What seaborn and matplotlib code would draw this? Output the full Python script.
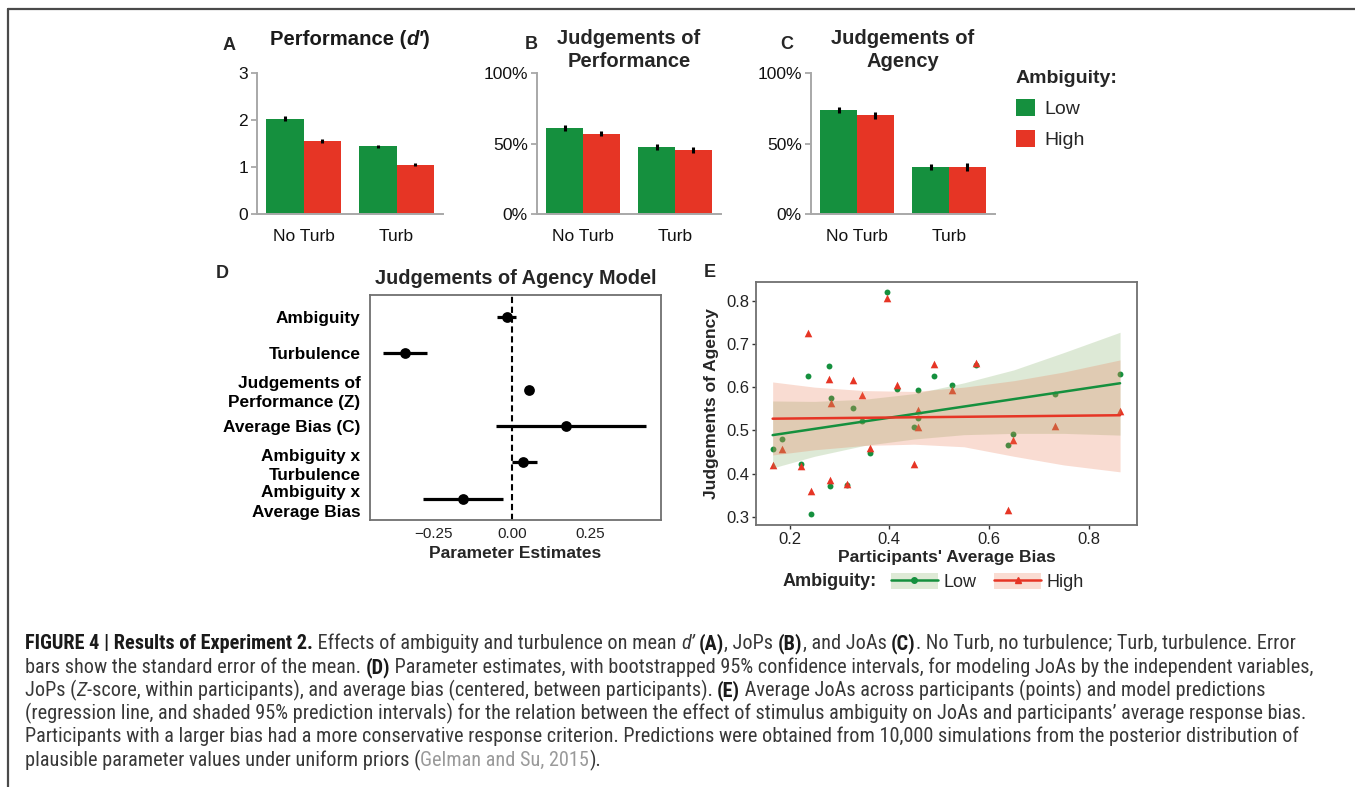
import numpy as np
import pandas as pd
import matplotlib
matplotlib.use('Agg')
import matplotlib.pyplot as plt
import seaborn as sns
from matplotlib.patches import Patch
from matplotlib.lines import Line2D
from matplotlib.font_manager import FontProperties

# ---- data ----
conditions = ['No Turb', 'Turb']
ambiguity = ['Low', 'High']

dprime_low = [2.03, 1.44]
dprime_high = [1.56, 1.05]
dprime_se_low = [0.05, 0.035]
dprime_se_high = [0.04, 0.035]

jop_low = [0.61, 0.477]
jop_high = [0.57, 0.455]
jop_se_low = [0.018, 0.022]
jop_se_high = [0.02, 0.02]

joa_low = [0.737, 0.335]
joa_high = [0.70, 0.335]
joa_se_low = [0.022, 0.022]
joa_se_high = [0.025, 0.028]

model_terms = ['Ambiguity', 'Turbulence', 'Judgements of\nPerformance (Z)',
               'Average Bias (C)', 'Ambiguity x\nTurbulence', 'Ambiguity x\nAverage Bias']
model_est = [-0.017, -0.343, 0.054, 0.173, 0.036, -0.157]
model_lo = [-0.048, -0.414, 0.048, -0.052, -0.001, -0.285]
model_hi = [0.012, -0.273, 0.060, 0.430, 0.080, -0.028]

bias = [0.166, 0.185, 0.223, 0.236, 0.243, 0.279, 0.282, 0.283, 0.316, 0.327, 0.346, 0.362,
        0.395, 0.416, 0.449, 0.457, 0.458, 0.489, 0.526, 0.574, 0.639, 0.649, 0.733, 0.863]
joa_pts_low = [0.456, 0.481, 0.423, 0.626, 0.306, 0.649, 0.372, 0.575, 0.374, 0.552, 0.522, 0.447,
               0.821, 0.595, 0.508, 0.594, 0.528, 0.625, 0.605, 0.652, 0.465, 0.492, 0.583, 0.630]
joa_pts_high = [0.420, 0.457, 0.417, 0.725, 0.360, 0.619, 0.385, 0.563, 0.376, 0.616, 0.582, 0.460,
                0.806, 0.604, 0.423, 0.546, 0.507, 0.653, 0.594, 0.656, 0.315, 0.478, 0.509, 0.545]

fit_x = [0.166, 0.863]
fit_low = [0.489, 0.609]
fit_high = [0.527, 0.535]

band_x = [0.166, 0.25, 0.35, 0.45, 0.55, 0.65, 0.75, 0.863]
band_low_lo = [0.413, 0.440, 0.465, 0.480, 0.490, 0.493, 0.493, 0.489]
band_low_hi = [0.568, 0.567, 0.572, 0.585, 0.610, 0.640, 0.680, 0.727]
band_high_lo = [0.443, 0.455, 0.465, 0.468, 0.462, 0.440, 0.420, 0.404]
band_high_hi = [0.612, 0.600, 0.592, 0.590, 0.600, 0.615, 0.635, 0.663]

# ---- style ----
sns.set_style('white')
SANS = ['Liberation Sans', 'DejaVu Sans']
CAPTION = ['Liberation Sans Narrow', 'Roboto Condensed', 'Liberation Sans', 'DejaVu Sans']
plt.rcParams['font.family'] = SANS
plt.rcParams['lines.scale_dashes'] = False

GREEN = '#15903E'
RED = '#E63525'
AXGRAY = '#A8A8A8'
BOXGRAY = '#707070'
W, H = 1355, 787


def fx(px):
    return px / W


def fy(py):
    return 1 - py / H


fig = plt.figure(figsize=(W / 100, H / 100), dpi=100)
fig.patch.set_facecolor('white')

# frame lines of the figure page
fig.add_artist(Line2D([fx(8), 1], [fy(8.5), fy(8.5)], color='#4a4a4a', lw=1.6, transform=fig.transFigure))
fig.add_artist(Line2D([fx(8), fx(8)], [fy(8.5), 0], color='#4a4a4a', lw=1.6, transform=fig.transFigure))


def bar_panel(ax, low, high, se_low, se_high, ymax, ticks, labels):
    df = pd.DataFrame({'cond': conditions * 2,
                       'amb': ['Low'] * 2 + ['High'] * 2,
                       'val': low + high,
                       'se': se_low + se_high})
    sns.barplot(data=df, x='cond', y='val', hue='amb', hue_order=ambiguity,
                palette=[GREEN, RED], saturation=1, errorbar=None, legend=False,
                width=0.8, linewidth=0, ax=ax)
    for p in ax.patches:
        xc = p.get_x() + p.get_width() / 2
        ci = int(round(xc))
        amb = 'Low' if xc < ci else 'High'
        row = df[(df.cond == conditions[ci]) & (df.amb == amb)].iloc[0]
        ax.vlines(xc, row.val - row.se, row.val + row.se, color='black', lw=2.2, zorder=3)
    ax.set_xlim(-0.5, 1.5)
    ax.set_ylim(0, ymax)
    ax.set_xticks([0, 1], conditions)
    ax.set_xticks([-0.5, 0.5, 1.5], minor=True)
    ax.tick_params(axis='x', which='major', length=0, pad=11, labelsize=12.5, labelcolor='#111111')
    ax.tick_params(axis='x', which='minor', length=4, width=1.3, color=AXGRAY)
    ax.set_yticks(ticks, labels)
    ax.tick_params(axis='y', length=4, width=1.3, color=AXGRAY, pad=2.5, labelsize=12.5,
                   labelcolor='#111111', left=True)
    for s in ['top', 'right']:
        ax.spines[s].set_visible(False)
    for s in ['left', 'bottom']:
        ax.spines[s].set_color(AXGRAY)
        ax.spines[s].set_linewidth(1.4)
    ax.set_xlabel('')
    ax.set_ylabel('')


axA = fig.add_axes([fx(257), fy(214), 186 / W, 141 / H])
axB = fig.add_axes([fx(537), fy(214), 184 / W, 141 / H])
axC = fig.add_axes([fx(811), fy(214), 184 / W, 141 / H])
bar_panel(axA, dprime_low, dprime_high, dprime_se_low, dprime_se_high, 3,
          [0, 1, 2, 3], ['0', '1', '2', '3'])
bar_panel(axB, jop_low, jop_high, jop_se_low, jop_se_high, 1,
          [0, 0.5, 1], ['0%', '50%', '100%'])
bar_panel(axC, joa_low, joa_high, joa_se_low, joa_se_high, 1,
          [0, 0.5, 1], ['0%', '50%', '100%'])

renderer = fig.canvas.get_renderer()


def run_widths(runs, size, family):
    out = []
    for txt, kind in runs:
        fp = FontProperties(family=family, size=size,
                            weight='bold' if 'b' in kind else 'normal',
                            style='italic' if 'i' in kind else 'normal')
        w1 = renderer.get_text_width_height_descent(txt + '|', fp, False)[0]
        w0 = renderer.get_text_width_height_descent('|', fp, False)[0]
        out.append((fp, w1 - w0))
    return out


def draw_runs(runs, x, y, size, family, ha='left', color='#333333'):
    measured = run_widths(runs, size, family)
    total = sum(w for _, w in measured)
    if ha == 'center':
        x = x - total / 2
    for (txt, kind), (fp, w) in zip(runs, measured):
        c = '#9a9a9a' if 'g' in kind else ('#1a1a1a' if 'b' in kind else color)
        fig.text(fx(x), fy(y), txt, fontproperties=fp, color=c, va='baseline', ha='left')
        x += w
    return total


# titles and panel letters for A-C
draw_runs([('Performance (', 'b'), ('d′', 'bi'), (')', 'b')], 350, 45, 14.6, SANS,
          ha='center', color='black')
for cx, lines in [(629, ['Judgements of', 'Performance']), (903, ['Judgements of', 'Agency'])]:
    for k, line in enumerate(lines):
        fig.text(fx(cx), fy(44 + 23 * k), line, ha='center', va='baseline',
                 fontsize=14.5, fontweight='bold')
for letter, lx, ly in [('A', 229, 50), ('B', 531, 49), ('C', 787, 49), ('D', 222, 278), ('E', 710, 277)]:
    fig.text(fx(lx), fy(ly), letter, ha='center', va='baseline', fontsize=13, fontweight='bold')

# legend for A-C
leg = fig.legend(handles=[Patch(facecolor=GREEN, edgecolor='none'), Patch(facecolor=RED, edgecolor='none')],
                 labels=ambiguity, loc='upper left', bbox_to_anchor=(fx(1016), fy(70)),
                 title='Ambiguity:', frameon=False, fontsize=14,
                 title_fontproperties={'weight': 'bold', 'size': 14}, alignment='left',
                 handlelength=1.0, handleheight=1.0, handletextpad=0.45, labelspacing=0.6,
                 borderpad=0, borderaxespad=0)

# ---- D: model estimates ----
axD = fig.add_axes([fx(370), fy(520), 291 / W, 225 / H])
df_d = pd.DataFrame({'term': model_terms, 'pos': range(len(model_terms)),
                     'est': model_est, 'lo': model_lo, 'hi': model_hi})
axD.axvline(0, color='black', lw=1.5, linestyle=(0, (4.5, 2.6)), zorder=1)
axD.hlines(df_d.pos, df_d.lo, df_d.hi, color='black', lw=2.3, zorder=2)
sns.scatterplot(data=df_d, x='est', y='pos', color='black', s=60, linewidth=0, zorder=3, ax=axD)
axD.set_xlim(-0.455, 0.478)
axD.set_ylim(5.58, -0.6)
axD.set_yticks(df_d.pos, model_terms, fontweight='bold', fontsize=12.4, linespacing=1.35)
axD.set_xticks([-0.25, 0, 0.25], ['\u22120.25', '0.00', '0.25'])
axD.tick_params(axis='x', length=3, width=1, color='#333333', pad=2, labelsize=11, labelcolor='#222222')
axD.tick_params(axis='y', length=0, pad=7, labelcolor='black')
for s in axD.spines.values():
    s.set_color(BOXGRAY)
    s.set_linewidth(1.3)
axD.set_xlabel('Parameter Estimates', fontweight='bold', fontsize=12.5, labelpad=4)
axD.set_ylabel('')
axD.set_title('Judgements of Agency Model', fontweight='bold', fontsize=14.3, pad=8)

# ---- E: average JoA vs. bias ----
axE = fig.add_axes([fx(756), fy(525), 381 / W, 243.3 / H])
df_e = pd.DataFrame({'bias': bias * 2,
                     'joa': joa_pts_low + joa_pts_high,
                     'amb': ['Low'] * len(bias) + ['High'] * len(bias)})
sns.scatterplot(data=df_e[df_e.amb == 'Low'], x='bias', y='joa', color=GREEN, marker='o',
                s=18, linewidth=0, ax=axE, zorder=2)
sns.scatterplot(data=df_e[df_e.amb == 'High'], x='bias', y='joa', color=RED, marker='^',
                s=30, linewidth=0, ax=axE, zorder=2)
axE.fill_between(band_x, band_low_lo, band_low_hi, color='#7BAB5C', alpha=0.25, lw=0, zorder=3)
axE.fill_between(band_x, band_high_lo, band_high_hi, color='#EB7852', alpha=0.26, lw=0, zorder=3)
sns.lineplot(x=fit_x, y=fit_low, color=GREEN, lw=1.8, ax=axE, zorder=4)
sns.lineplot(x=fit_x, y=fit_high, color=RED, lw=1.8, ax=axE, zorder=4)
axE.set_xlim(0.1326, 0.897)
axE.set_ylim(0.281, 0.844)
axE.set_xticks([0.2, 0.4, 0.6, 0.8], ['0.2', '0.4', '0.6', '0.8'])
axE.set_yticks([0.3, 0.4, 0.5, 0.6, 0.7, 0.8], ['0.3', '0.4', '0.5', '0.6', '0.7', '0.8'])
axE.tick_params(length=3, width=1, color='#333333', pad=2, labelsize=12, labelcolor='#222222',
                left=True, bottom=True)
for s in axE.spines.values():
    s.set_color(BOXGRAY)
    s.set_linewidth(1.3)
axE.set_xlabel("Participants' Average Bias", fontweight='bold', fontsize=12.5, labelpad=2)
axE.set_ylabel('Judgements of Agency', fontweight='bold', fontsize=12.5, labelpad=5)

fig.text(fx(783), fy(582), 'Ambiguity:', fontsize=13, fontweight='bold', ha='left', va='center')
e_handles = [(Patch(facecolor='#DEEAD6', edgecolor='none'),
              Line2D([], [], color=GREEN, lw=1.8, marker='o', markersize=4)),
             (Patch(facecolor='#FADCD2', edgecolor='none'),
              Line2D([], [], color=RED, lw=1.8, marker='^', markersize=5))]
fig.legend(handles=e_handles, labels=ambiguity, ncol=2, loc='center left',
           bbox_to_anchor=(fx(891), fy(582)), frameon=False, fontsize=13,
           handlelength=2.6, handleheight=0.95, handletextpad=0.3, columnspacing=1.0,
           borderpad=0, borderaxespad=0, numpoints=1)

# ---- caption ----
caption = [
    [('FIGURE 4 | Results of Experiment 2.', 'b'), (' Effects of ambiguity and turbulence on mean ', 'n'),
     ('d’', 'i'), (' ', 'n'), ('(A)', 'b'), (', JoPs ', 'n'), ('(B)', 'b'), (', and JoAs ', 'n'),
     ('(C)', 'b'), ('. No Turb, no turbulence; Turb, turbulence. Error', 'n')],
    [('bars show the standard error of the mean. ', 'n'), ('(D)', 'b'),
     (' Parameter estimates, with bootstrapped 95% confidence intervals, for modeling JoAs by the independent variables,', 'n')],
    [('JoPs (', 'n'), ('Z', 'i'), ('-score, within participants), and average bias (centered, between participants). ', 'n'),
     ('(E)', 'b'), (' Average JoAs across participants (points) and model predictions', 'n')],
    [('(regression line, and shaded 95% prediction intervals) for the relation between the effect of stimulus ambiguity on JoAs and participants’ average response bias.', 'n')],
    [('Participants with a larger bias had a more conservative response criterion. Predictions were obtained from 10,000 simulations from the posterior distribution of', 'n')],
    [('plausible parameter values under uniform priors (', 'n'), ('Gelman and Su, 2015', 'g'), (').', 'n')],
]
caption_base = [649, 673, 696, 719, 742, 766]
caption_end = [1338, 1335, 1262, 1301, 1290]

base_size = 13
ratios = []
for runs, end in zip(caption, caption_end):
    natural = sum(w for _, w in run_widths(runs, base_size, CAPTION))
    ratios.append((end - 25) / natural)
cap_size = base_size * min(ratios)
for runs, yb in zip(caption, caption_base):
    draw_runs(runs, 25, yb, cap_size, CAPTION, color='#383838')

fig.savefig('out.png', dpi=100, facecolor='white')
